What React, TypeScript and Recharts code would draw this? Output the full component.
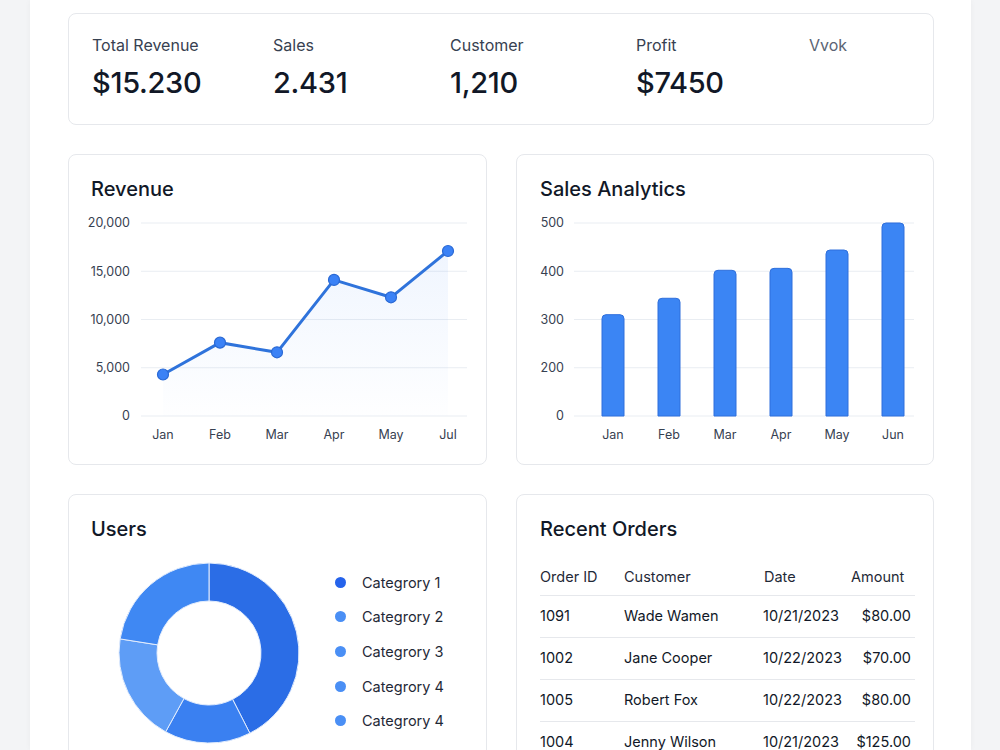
import {
  AreaChart,
  Area,
  BarChart,
  Bar,
  PieChart,
  Pie,
  Cell,
  XAxis,
  YAxis,
  CartesianGrid,
} from 'recharts'

// ─── data ────────────────────

const kpiLabels = ['Total Revenue', 'Sales', 'Customer', 'Profit', 'Vvok']
const kpiValues = ['$15.230', '2.431', '1,210', '$7450', '']

const revenueMonths = ['Jan', 'Feb', 'Mar', 'Apr', 'May', 'Jul']
const revenueValues = [4300, 7600, 6600, 14100, 12300, 17100]
const revenueTicks = [0, 5000, 10000, 15000, 20000]

const salesMonths = ['Jan', 'Feb', 'Mar', 'Apr', 'May', 'Jun']
const salesValues = [310, 344, 402, 406, 444, 500]
// the axis is drawn with evenly spaced ticks, bottom one labelled "0"
const salesTicks = [100, 200, 300, 400, 500]
const salesTickLabels = ['0', '200', '300', '400', '500']

const userCategories = ['Categrory 1', 'Categrory 2', 'Categrory 3', 'Categrory 4']
const userValues = [42.5, 15.5, 19.5, 22.5]
const sliceColors = ['#2b6de6', '#3a80f1', '#5e9df6', '#3f88f3']
const legendLabels = ['Categrory 1', 'Categrory 2', 'Categrory 3', 'Categrory 4', 'Categrory 4']
const legendColors = ['#2563eb', '#4a8ff5', '#4a8ff5', '#4a8ff5', '#4a8ff5']

const orderHeaders = ['Order ID', 'Customer', 'Date', 'Amount']
const orderIds = ['1091', '1002', '1005', '1004']
const orderCustomers = ['Wade Wamen', 'Jane Cooper', 'Robert Fox', 'Jenny Wilson']
const orderDates = ['10/21/2023', '10/22/2023', '10/22/2023', '10/21/2023']
const orderAmounts = ['$80.00', '$70.00', '$80.00', '$125.00']

// ─── styles ────────────────────

const FONT = 'Inter, "Noto Sans", sans-serif'
const tickStyle = { fontSize: 12.5, fill: '#374151', fontFamily: FONT }

const card = (left: number, top: number, width: number, height: number): React.CSSProperties => ({
  position: 'absolute',
  left,
  top,
  width,
  height,
  boxSizing: 'border-box',
  background: '#fff',
  border: '1px solid #e6e8ec',
  borderRadius: 8,
})

const titleStyle: React.CSSProperties = {
  position: 'absolute',
  left: 22,
  top: 21,
  fontSize: 20,
  fontWeight: 500,
  color: '#111827',
  lineHeight: '26px',
}

export default function App() {
  const revenueData = revenueMonths.map((m, i) => ({ month: m, value: revenueValues[i] }))
  const salesData = salesMonths.map((m, i) => ({ month: m, value: salesValues[i] }))
  const userData = userCategories.map((c, i) => ({ name: c, value: userValues[i] }))

  return (
    <div
      style={{
        position: 'absolute',
        left: 0,
        top: 0,
        width: 1000,
        height: 750,
        overflow: 'hidden',
        background: '#f3f4f6',
        fontFamily: FONT,
      }}
    >
      <div
        style={{
          position: 'absolute',
          left: 30,
          top: 0,
          width: 941,
          height: 750,
          background: '#fff',
          boxShadow: '0 0 6px rgba(0,0,0,0.04)',
        }}
      />

      {/* KPI row */}
      <div style={card(68, 13, 866, 112)}>
        {kpiLabels.map((label, i) => (
          <div key={i} style={{ position: 'absolute', left: [23, 204, 381, 567, 740][i], top: 21 }}>
            <div style={{ fontSize: 16, color: i === 4 ? '#5b6474' : '#374151', lineHeight: '20px' }}>
              {label}
            </div>
            <div
              style={{
                fontSize: 29,
                fontWeight: 500,
                color: '#111827',
                marginTop: 10,
                lineHeight: '36px',
                letterSpacing: -0.3,
              }}
            >
              {kpiValues[i]}
            </div>
          </div>
        ))}
      </div>

      {/* Revenue */}
      <div style={card(68, 154, 419, 311)}>
        <div style={titleStyle}>Revenue</div>
        <div style={{ position: 'absolute', left: -1, top: -1 }}>
          <AreaChart
            width={419}
            height={311}
            data={revenueData}
            margin={{ top: 69, right: 20, bottom: 19, left: 0 }}
          >
            <defs>
              <linearGradient id="revFill" x1="0" y1="0" x2="0" y2="1">
                <stop offset="0%" stopColor="#3b82f6" stopOpacity={0.13} />
                <stop offset="100%" stopColor="#3b82f6" stopOpacity={0.01} />
              </linearGradient>
            </defs>
            <CartesianGrid vertical={false} stroke="#e9edf2" />
            <XAxis
              dataKey="month"
              axisLine={false}
              tickLine={false}
              tick={tickStyle}
              tickMargin={8}
              height={30}
              padding={{ left: 22, right: 19 }}
            />
            <YAxis
              domain={[0, 20000]}
              ticks={revenueTicks}
              tickFormatter={(v: number) => v.toLocaleString('en-US')}
              axisLine={false}
              tickLine={false}
              tick={tickStyle}
              tickMargin={5}
              width={73}
            />
            <Area
              type="linear"
              dataKey="value"
              stroke="#2f73db"
              strokeWidth={3}
              fill="url(#revFill)"
              dot={{ r: 5.5, fill: '#3b82f6', stroke: '#2a69d4', strokeWidth: 1.2, fillOpacity: 1 }}
              isAnimationActive={false}
            />
          </AreaChart>
        </div>
      </div>

      {/* Sales Analytics */}
      <div style={card(516, 154, 418, 311)}>
        <div style={{ ...titleStyle, left: 23 }}>Sales Analytics</div>
        <div style={{ position: 'absolute', left: -1, top: -1 }}>
          <BarChart
            width={418}
            height={311}
            data={salesData}
            margin={{ top: 69, right: 20, bottom: 19, left: 0 }}
          >
            <CartesianGrid vertical={false} stroke="#e9edf2" />
            <XAxis
              dataKey="month"
              axisLine={false}
              tickLine={false}
              tick={tickStyle}
              tickMargin={8}
              height={30}
              padding={{ left: 11, right: -7 }}
            />
            <YAxis
              domain={[100, 500]}
              ticks={salesTicks}
              tickFormatter={(v: number) => salesTickLabels[salesTicks.indexOf(v)]}
              axisLine={false}
              tickLine={false}
              tick={tickStyle}
              tickMargin={4}
              width={58}
            />
            <Bar
              dataKey="value"
              barSize={22}
              fill="#3b85f4"
              stroke="#2f6fdc"
              strokeWidth={1}
              radius={[4, 4, 0, 0]}
              isAnimationActive={false}
            />
          </BarChart>
        </div>
      </div>

      {/* Users */}
      <div style={card(68, 494, 419, 300)}>
        <div style={titleStyle}>Users</div>
        <div style={{ position: 'absolute', left: -1, top: -1 }}>
          <PieChart width={280} height={260}>
            <Pie
              data={userData}
              dataKey="value"
              nameKey="name"
              cx={136}
              cy={154}
              innerRadius={52}
              outerRadius={90}
              startAngle={90}
              endAngle={-270}
              stroke="#e3edfd"
              strokeWidth={1}
              isAnimationActive={false}
            >
              {userData.map((_, i) => (
                <Cell key={i} fill={sliceColors[i]} />
              ))}
            </Pie>
          </PieChart>
        </div>
        {legendLabels.map((label, i) => (
          <div
            key={i}
            style={{
              position: 'absolute',
              left: 266,
              top: 76 + i * 34.7,
              height: 22,
              display: 'flex',
              alignItems: 'center',
              fontSize: 14.5,
              color: '#1f2937',
            }}
          >
            <span
              style={{
                width: 11,
                height: 11,
                borderRadius: '50%',
                background: legendColors[i],
                display: 'inline-block',
                marginRight: 16,
              }}
            />
            {label}
          </div>
        ))}
      </div>

      {/* Recent Orders */}
      <div style={card(516, 494, 418, 300)}>
        <div style={{ ...titleStyle, left: 23 }}>Recent Orders</div>
        <div style={{ position: 'absolute', left: 23, top: 72, width: 375, fontSize: 14.5, color: '#111827' }}>
          <div style={{ position: 'relative', height: 28, borderBottom: '1px solid #e6e8ec' }}>
            {orderHeaders.map((h, i) => (
              <span
                key={i}
                style={{ position: 'absolute', left: [0, 84, 224, 311][i], top: 0, lineHeight: '20px', color: '#1f2937' }}
              >
                {h}
              </span>
            ))}
          </div>
          {orderIds.map((id, i) => (
            <div
              key={id}
              style={{ position: 'relative', height: 41, borderBottom: '1px solid #e6e8ec' }}
            >
              <span style={{ position: 'absolute', left: 0, top: 10, lineHeight: '20px' }}>{id}</span>
              <span style={{ position: 'absolute', left: 84, top: 10, lineHeight: '20px' }}>{orderCustomers[i]}</span>
              <span style={{ position: 'absolute', left: 223, top: 10, lineHeight: '20px' }}>{orderDates[i]}</span>
              <span style={{ position: 'absolute', right: 4, top: 10, lineHeight: '20px' }}>{orderAmounts[i]}</span>
            </div>
          ))}
        </div>
      </div>
    </div>
  )
}
